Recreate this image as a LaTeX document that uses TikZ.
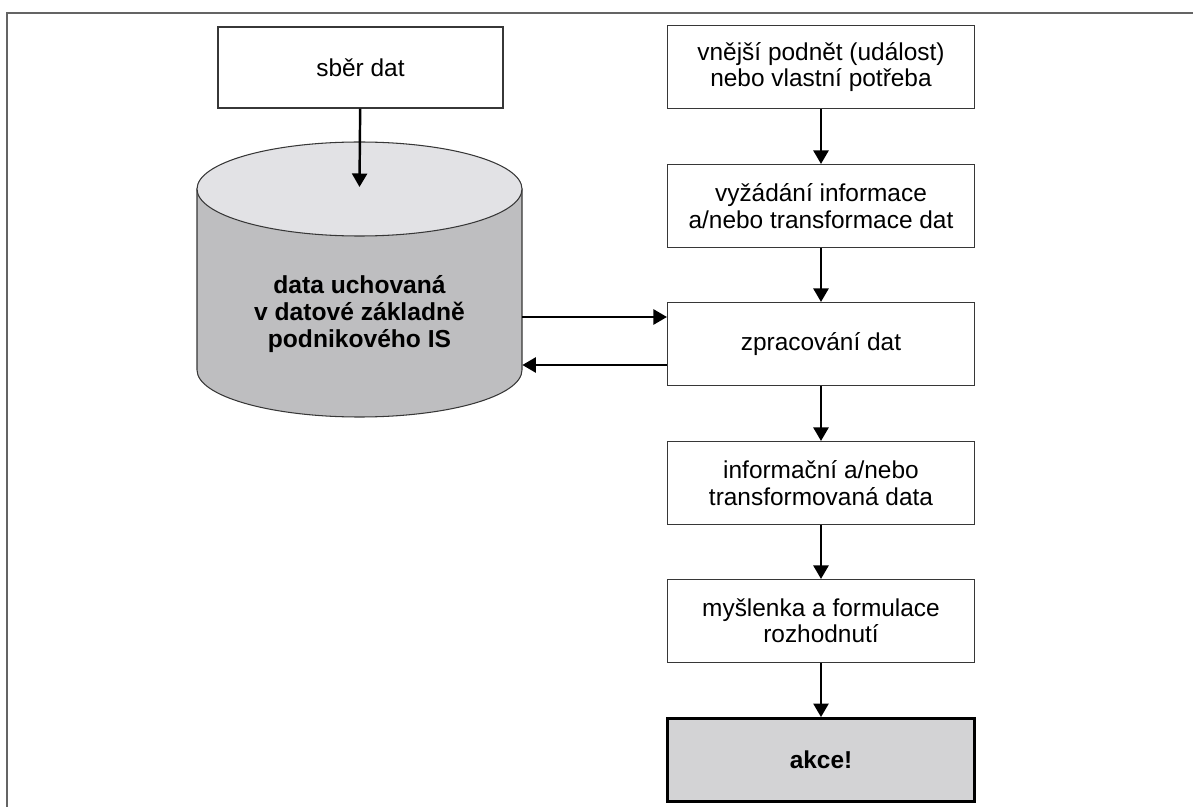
\documentclass[tikz,border=0pt]{standalone}
\usepackage{fontspec}
\setmainfont{Liberation Sans}
\usetikzlibrary{arrows.meta}

\definecolor{linegray}{RGB}{55,55,55}
\definecolor{framegray}{RGB}{100,100,100}
\definecolor{dbside}{RGB}{190,190,192}
\definecolor{dbtopfill}{RGB}{226,226,229}
\definecolor{akcefill}{RGB}{211,211,213}

\begin{document}
\begin{tikzpicture}
        % Define styles for shapes
        \tikzstyle{box} = [draw=linegray, line width=0.6pt, fill=white, inner sep=0pt, align=center,
            minimum width=6.14cm, minimum height=1.66cm, font=\fontsize{13.9}{15}\selectfont]
        \tikzstyle{endbox} = [box, draw=black, line width=1.6pt, fill=akcefill, font=\fontsize{13.9}{15}\selectfont\bfseries]
        \tikzstyle{dbtext} = [inner sep=0pt, align=center, minimum width=6.5cm, font=\fontsize{14}{15.6}\selectfont\bfseries]
        \tikzstyle{arr} = [line width=1.4pt, -{Triangle[length=0.27cm, width=0.3cm]}]

        \useasboundingbox (0,0) rectangle (23.86,-16.14);
        % Frame
        \draw[framegray, line width=1.1pt] (0.14,-16.14) -- (0.14,-0.26) -- (23.86,-0.26);

        % Draw the database
        \filldraw[fill=dbside, draw=linegray, line width=0.6pt] (3.94,-3.78) -- (3.94,-7.40)
            arc[start angle=180, end angle=360, x radius=3.25cm, y radius=0.94cm] -- (10.44,-3.78) -- cycle;
        \filldraw[fill=dbtopfill, draw=linegray, line width=0.6pt] (7.19,-3.78) ellipse [x radius=3.25cm, y radius=0.94cm];
        \coordinate (dbtop) at (7.19,-3.74);
        \node[dbtext] (db) at (7.19,-6.28) {data uchovaná\\v datové základně\\podnikového IS};

        % Draw shapes
        \node[box, minimum width=5.7cm, minimum height=1.62cm] (sber) at (7.21,-1.35) {sběr dat};
        \node[box] (podnet) at (16.42,-1.34) {vnější podnět (událost)\\nebo vlastní potřeba};
        \node[box] (vyzadani) at (16.42,-4.12) {vyžádání informace\\a/nebo transformace dat};
        \node[box] (zprac) at (16.42,-6.88) {zpracování dat};
        \node[box] (infodata) at (16.42,-9.66) {informační a/nebo\\transformovaná data};
        \node[box] (myslenka) at (16.42,-12.42) {myšlenka a formulace\\rozhodnutí};
        \node[endbox] (akce) at (16.42,-15.2) {akce!};

        % Draw arrows
        \draw[arr] (sber) -- (dbtop);
        \draw[arr] (podnet) -- (vyzadani);
        \draw[arr] (vyzadani) -- (zprac);
        \draw[arr] (zprac) -- (infodata);
        \draw[arr] (infodata) -- (myslenka);
        \draw[arr] (myslenka) -- (akce);
        \coordinate (tozprac) at ([yshift=0.54cm]zprac.west);
        \coordinate (todb) at ([yshift=-0.42cm]zprac.west);
        \draw[arr] (tozprac -| db.east) -- (tozprac);
        \draw[arr] (todb) -- (todb -| db.east);
    \end{tikzpicture}
\end{document}
